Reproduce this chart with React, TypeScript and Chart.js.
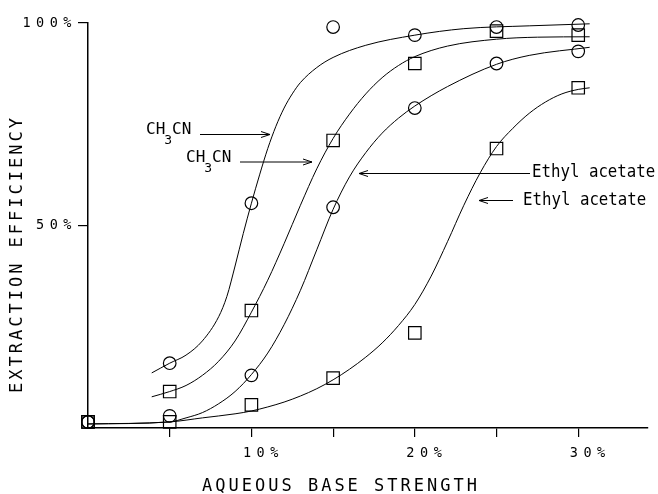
import { useEffect, useRef } from 'react';
import { Chart, registerables } from 'chart.js';

Chart.register(...registerables);

// Measured data points (x = aqueous base strength %, y = extraction efficiency %)
const strengths = [0, 5, 10, 15, 20, 25, 30];
const ch3cnCircles = [1.5, 16, 55.5, 99, 97, 99, 99.5];
const ch3cnSquares = [1.5, 9, 29, 71, 90, 98, 97];
const ethylCircles = [1.5, 3, 13, 54.5, 79, 90, 93];
const ethylSquares = [1.5, 1.5, 5.7, 12.3, 23.5, 69, 84];

// Hand-drawn fitted curves
const curveCh3cnCirclesX = [3.9, 5, 6, 7, 8, 8.5, 9, 9.5, 10, 10.5, 11, 11.5, 12, 12.5, 13, 14, 15, 17, 20, 23, 27, 30.7];
const curveCh3cnCirclesY = [13.6, 16, 18, 21.5, 27.5, 32.5, 40, 48, 55.5, 62.5, 69, 74.5, 79, 82.5, 85.3, 89, 91.5, 94.5, 97, 98.6, 99.3, 99.8];

const curveCh3cnSquaresX = [3.9, 5, 6, 7, 8, 9, 10, 11, 12, 13, 14, 15, 16, 17, 18, 19, 20, 22, 25, 27.5, 30.7];
const curveCh3cnSquaresY = [7.7, 9, 10.5, 13, 16.5, 21.5, 28.6, 36.5, 45.5, 55, 64, 71.5, 77.5, 82.5, 86.5, 89.5, 91.7, 94.3, 96, 96.5, 96.6];

const curveEthylCirclesX = [0, 5, 6, 7, 8, 9, 10, 11, 12, 13, 14, 15, 16, 17, 18, 19, 20, 22, 25, 27, 30.7];
const curveEthylCirclesY = [1, 1.5, 2.5, 3.8, 6, 9, 13.2, 18.5, 25.5, 34, 44, 54, 62, 68, 72.8, 76.5, 79.5, 84.3, 89.8, 92, 94];

const curveEthylSquaresX = [0, 5, 7, 9, 10, 11, 12, 13, 14, 15, 16, 17, 18, 19, 20, 21, 22, 23, 24, 25, 26, 27, 28, 29, 30, 30.7];
const curveEthylSquaresY = [1, 1.5, 2.5, 3.5, 4.2, 5.2, 6.4, 7.9, 9.7, 11.9, 14.5, 17.5, 21, 25.3, 30.5, 37.5, 46, 55, 63, 69.5, 74, 77.7, 80.5, 82.5, 83.6, 84];

const xTickValues = [5, 10, 15, 20, 25, 30];
const xTickLabels = ['', '10%', '', '20%', '', '30%'];
const yTickValues = [50, 100];
const yTickLabels = ['50%', '100%'];

const xTitle = 'AQUEOUS BASE STRENGTH';
const yTitle = 'EXTRACTION EFFICIENCY';
const ch3cnParts = ['CH', '3', 'CN'];
const ethylLabel = 'Ethyl acetate';

const MONO = '"DejaVu Sans Mono", monospace';

const pts = (xs: number[], ys: number[]) => xs.map((x, i) => ({ x, y: ys[i] }));

function arrow(ctx: CanvasRenderingContext2D, x1: number, x2: number, y: number, headAtX2: boolean) {
  ctx.beginPath();
  ctx.moveTo(x1, y);
  ctx.lineTo(x2, y);
  const hx = headAtX2 ? x2 : x1;
  const dir = headAtX2 ? -1 : 1;
  ctx.moveTo(hx + dir * 9, y - 3);
  ctx.lineTo(hx, y);
  ctx.lineTo(hx + dir * 9, y + 3);
  ctx.stroke();
}

function drawCh3cn(ctx: CanvasRenderingContext2D, x: number, y: number) {
  ctx.font = `16px ${MONO}`;
  ctx.fillText(ch3cnParts[0], x, y);
  let w = ctx.measureText(ch3cnParts[0]).width;
  ctx.font = `13px ${MONO}`;
  ctx.fillText(ch3cnParts[1], x + w - 1, y + 10);
  w += ctx.measureText(ch3cnParts[1]).width - 1;
  ctx.font = `16px ${MONO}`;
  ctx.fillText(ch3cnParts[2], x + w, y);
}

function drawEthyl(ctx: CanvasRenderingContext2D, x: number, y: number) {
  ctx.save();
  ctx.translate(x, y);
  ctx.scale(0.9, 1);
  ctx.font = `17.5px ${MONO}`;
  ctx.fillText(ethylLabel, 0, 0);
  ctx.restore();
}

const decorPlugin = {
  id: 'decor',
  beforeDraw(chart: any) {
    (chart.ctx as any).letterSpacing = '5.5px';
  },
  afterDraw(chart: any) {
    const ctx: CanvasRenderingContext2D = chart.ctx;
    ctx.save();
    ctx.fillStyle = '#000';
    ctx.strokeStyle = '#000';
    // axis titles
    (ctx as any).letterSpacing = '3px';
    ctx.font = `17px ${MONO}`;
    ctx.textAlign = 'center';
    ctx.textBaseline = 'middle';
    ctx.fillText(xTitle, 341, 487);
    ctx.save();
    ctx.translate(18, 254);
    ctx.rotate(-Math.PI / 2);
    ctx.fillText(yTitle, 0, 0);
    ctx.restore();

    // annotations
    (ctx as any).letterSpacing = '0px';
    ctx.textAlign = 'left';
    ctx.textBaseline = 'alphabetic';
    ctx.lineWidth = 1;
    drawCh3cn(ctx, 146, 133.5);
    arrow(ctx, 200, 270, 134.5, true);
    drawCh3cn(ctx, 186, 162);
    arrow(ctx, 240, 312, 162, true);
    drawEthyl(ctx, 532, 177);
    arrow(ctx, 359, 530, 173.5, false);
    drawEthyl(ctx, 523, 205);
    arrow(ctx, 479, 513, 200.5, false);
    ctx.restore();
    (ctx as any).letterSpacing = '0px';
  },
};

export default function App() {
  const ref = useRef<HTMLCanvasElement>(null);

  useEffect(() => {
    if (!ref.current) return;
    const lineDs = (xs: number[], ys: number[]) => ({
      data: pts(xs, ys),
      borderColor: '#000',
      borderWidth: 1,
      pointRadius: 0,
      cubicInterpolationMode: 'monotone' as const,
      fill: false,
    });
    const markerDs = (ys: number[], style: string, r: number) => ({
      data: pts(strengths, ys),
      showLine: false,
      pointStyle: style,
      pointRadius: r,
      pointBorderWidth: 1.2,
      pointBorderColor: '#000',
      pointBackgroundColor: 'rgba(0,0,0,0)',
      clip: false as any,
    });

    const chart = new Chart(ref.current, {
      type: 'line',
      data: {
        datasets: [
          lineDs(curveCh3cnCirclesX, curveCh3cnCirclesY),
          lineDs(curveCh3cnSquaresX, curveCh3cnSquaresY),
          lineDs(curveEthylCirclesX, curveEthylCirclesY),
          lineDs(curveEthylSquaresX, curveEthylSquaresY),
          markerDs(ch3cnCircles, 'circle', 6.3),
          markerDs(ch3cnSquares, 'rect', 8.8),
          markerDs(ethylCircles, 'circle', 6.3),
          markerDs(ethylSquares, 'rect', 8.8),
        ] as any,
      },
      options: {
        responsive: false,
        animation: false,
        events: [],
        layout: { padding: { top: 23, right: 8, left: 0, bottom: 0 } },
        plugins: { legend: { display: false }, tooltip: { enabled: false }, title: { display: false } },
        scales: {
          x: {
            type: 'linear',
            min: 0,
            max: 34.27,
            afterBuildTicks: (s: any) => {
              s.ticks = xTickValues.map((v) => ({ value: v }));
            },
            afterFit: (s: any) => {
              s.height = 66;
            },
            ticks: {
              autoSkip: false,
              maxRotation: 0,
              padding: 8,
              labelOffset: 12,
              color: '#000',
              font: { family: MONO, size: 13.5 },
              callback: (_v: any, i: number) => xTickLabels[i],
            },
            grid: { drawOnChartArea: false, drawTicks: true, tickLength: 9, color: '#000', lineWidth: 1.2 },
            border: { display: true, color: '#000', width: 1.5 },
          },
          y: {
            type: 'linear',
            min: 0,
            max: 100,
            afterBuildTicks: (s: any) => {
              s.ticks = yTickValues.map((v) => ({ value: v }));
            },
            afterFit: (s: any) => {
              s.width = 88;
            },
            ticks: {
              padding: 1,
              color: '#000',
              font: { family: MONO, size: 13.5 },
              callback: (_v: any, i: number) => yTickLabels[i],
            },
            grid: { drawOnChartArea: false, drawTicks: true, tickLength: 10, color: '#000', lineWidth: 1.2 },
            border: { display: true, color: '#000', width: 1.5 },
          },
        },
      },
      plugins: [decorPlugin],
    });
    return () => chart.destroy();
  }, []);

  return (
    <div style={{ position: 'absolute', left: 0, top: 0, width: 658, height: 494, background: '#fff' }}>
      <canvas ref={ref} width={658} height={494} />
    </div>
  );
}
